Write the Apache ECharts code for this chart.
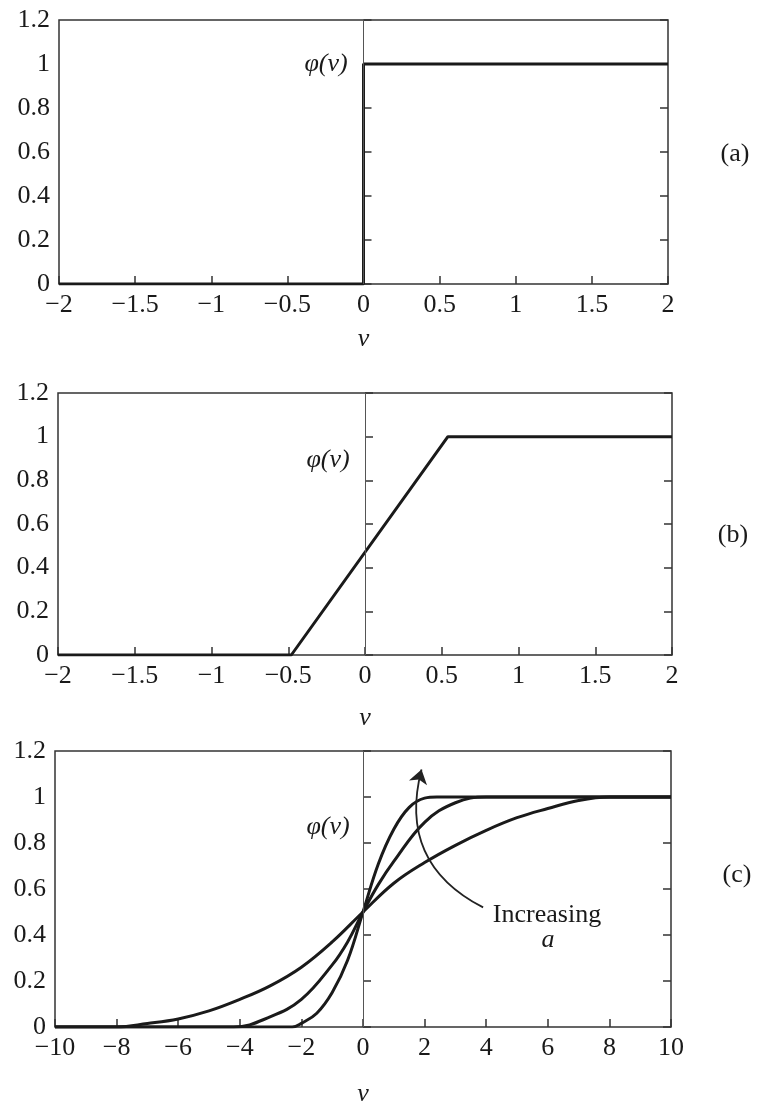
<!DOCTYPE html>
<html>
<head>
<meta charset="utf-8">
<script src="https://cdn.jsdelivr.net/npm/echarts@6/dist/echarts.min.js"></script>
<style>
    html, body { margin: 0; padding: 0; background: #fff; }
    #chart { width: 760px; height: 1108px; }
</style>
</head>
<body>
<div id="chart"></div>
<script>
// (a) threshold function
const vA = [-2, 0, 0, 2];
const phiA = [0, 0, 1, 1];

// (b) piecewise-linear function
const vB = [-2, -0.48, 0.54, 2];
const phiB = [0, 0, 1, 1];

// (c) sigmoid-like curves, from widest to steepest
const vC1 = [-10, -8, -7, -6, -5, -4, -3, -2, -1, 0, 1, 2, 3, 4, 5, 6, 7, 8, 10];
const phiC1 = [0, 0, 0.015, 0.035, 0.07, 0.12, 0.18, 0.26, 0.37, 0.5, 0.625, 0.715, 0.79, 0.855, 0.91, 0.95, 0.985, 1, 1];
const vC2 = [-10, -4.2, -3, -2, -1, -0.5, 0, 0.5, 1, 2, 3, 4, 10];
const phiC2 = [0, 0, 0.045, 0.12, 0.27, 0.37, 0.5, 0.62, 0.72, 0.89, 0.975, 1, 1];
const vC3 = [-10, -2.3, -2, -1.5, -1, -0.5, 0, 0.5, 1, 1.5, 2, 2.4, 10];
const phiC3 = [0, 0, 0.016, 0.06, 0.15, 0.29, 0.5, 0.71, 0.86, 0.955, 0.995, 1, 1];

// "Increasing a" arrow (data coords of panel c)
const arrowFrom = [3.9, 0.52];
const arrowTo = [1.9, 1.12];

// axis ranges / tick steps
const xRanges = [[-2, 2, 0.5], [-2, 2, 0.5], [-10, 10, 2]];
const yRange = [0, 1.2, 0.2];
const panelNames = ['(a)', '(b)', '(c)'];

const FONT = 'Liberation Serif';
const INK = '#1a1a1a';

function pairs(xs, ys) {
    return xs.map((x, i) => [x, ys[i]]);
}

function minusSign(val) {
    return String(val).replace('-', '\u2212');
}

const grids = [
    {left: 59, right: 92, top: 20, height: 264},
    {left: 58, right: 88, top: 393, height: 262},
    {left: 55, right: 89, top: 751, height: 281}
];
const nameGaps = [42, 50, 54];

let xAxis = [];
let yAxis = [];
grids.forEach((g, i) => {
    xAxis.push({
        type: 'value',
        gridIndex: i,
        min: xRanges[i][0],
        max: xRanges[i][1],
        interval: xRanges[i][2],
        name: 'v',
        nameLocation: 'middle',
        nameGap: nameGaps[i],
        nameTextStyle: {fontFamily: FONT, fontStyle: 'italic', fontSize: 26, color: INK},
        axisLine: {show: false},
        axisTick: {inside: true, length: 8, lineStyle: {color: '#333', width: 1.5}},
        axisLabel: {fontFamily: FONT, fontSize: 26, color: INK, margin: 8, formatter: minusSign},
        splitLine: {show: false}
    });
    yAxis.push({
        type: 'value',
        gridIndex: i,
        min: yRange[0],
        max: yRange[1],
        interval: yRange[2],
        axisLine: {show: false},
        axisTick: {inside: true, length: 8, lineStyle: {color: '#333', width: 1.5}},
        axisLabel: {fontFamily: FONT, fontSize: 26, color: INK, margin: 9},
        splitLine: {show: false}
    });
    yAxis.push({
        type: 'value',
        gridIndex: i,
        position: 'right',
        min: yRange[0],
        max: yRange[1],
        interval: yRange[2],
        axisLine: {show: false},
        axisTick: {inside: true, length: 8, lineStyle: {color: '#333', width: 1.5}},
        axisLabel: {show: false},
        splitLine: {show: false}
    });
});

const zeroLine = {
    silent: true,
    symbol: 'none',
    label: {show: false},
    lineStyle: {color: '#555', width: 1, type: 'solid'},
    data: [{xAxis: 0}]
};

function curve(idx, data, extra) {
    return Object.assign({
        type: 'line',
        xAxisIndex: idx,
        yAxisIndex: idx * 2,
        data: data,
        showSymbol: false,
        lineStyle: {color: INK, width: 3},
        z: 3
    }, extra || {});
}

let series = [
    curve(0, pairs(vA, phiA), {markLine: zeroLine}),
    curve(1, pairs(vB, phiB), {markLine: zeroLine}),
    curve(2, pairs(vC1, phiC1), {smooth: 0.4, markLine: zeroLine}),
    curve(2, pairs(vC2, phiC2), {smooth: 0.4}),
    curve(2, pairs(vC3, phiC3), {smooth: 0.4}),
    {
        type: 'lines',
        coordinateSystem: 'cartesian2d',
        xAxisIndex: 2,
        yAxisIndex: 4,
        symbol: ['none', 'arrow'],
        symbolSize: [9, 14],
        lineStyle: {color: '#222', width: 1.8, curveness: 0.4, opacity: 1},
        data: [{coords: [arrowFrom, arrowTo]}],
        z: 4
    }
];

function txt(x, y, text, italic) {
    return {
        type: 'text',
        x: x,
        y: y,
        style: {
            text: text,
            fill: INK,
            font: (italic ? 'italic ' : '') + '26px "' + FONT + '"',
            textAlign: 'center',
            textVerticalAlign: 'middle'
        }
    };
}

let graphic = [
    txt(326, 64, '\u03c6(v)', true),
    txt(328, 460, '\u03c6(v)', true),
    txt(328, 827, '\u03c6(v)', true),
    txt(735, 154, panelNames[0]),
    txt(733, 535, panelNames[1]),
    txt(737, 875, panelNames[2]),
    txt(547, 915, 'Increasing'),
    txt(548, 940, 'a', true)
];

const option = {
    backgroundColor: '#fff',
    animation: false,
    grid: grids.map(g => Object.assign({show: true, borderColor: '#333', borderWidth: 1.5}, g)),
    xAxis: xAxis,
    yAxis: yAxis,
    series: series,
    graphic: graphic
};

let chart = echarts.init(document.getElementById('chart'));
chart.setOption(option);
</script>
</body>
</html>
